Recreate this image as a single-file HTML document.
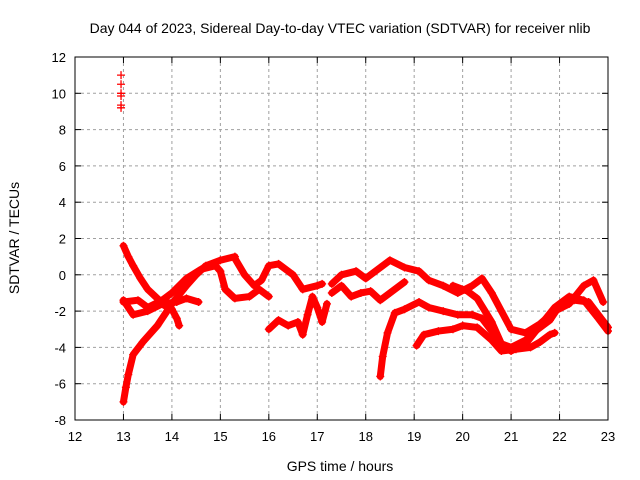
<!DOCTYPE html>
<html><head><meta charset="utf-8"><style>
body{margin:0;background:#fff}
svg{display:block;font-family:"Liberation Sans",sans-serif}
</style></head><body>
<svg id="c" width="640" height="480">
<text x="340" y="33" font-size="14" text-anchor="middle">Day 044 of 2023, Sidereal Day-to-day VTEC variation (SDTVAR) for receiver nlib</text>
<text x="340" y="471" font-size="14" text-anchor="middle">GPS time / hours</text>
<text transform="translate(19,238) rotate(-90)" font-size="14" text-anchor="middle">SDTVAR / TECUs</text>
<g id="grid"></g>
<g id="ticks"></g>
<g id="series"></g>
<rect x="75" y="57" width="533" height="363" fill="none" stroke="#000" stroke-width="1"/>
</svg>
<script>
const xTicks=[12,13,14,15,16,17,18,19,20,21,22,23];
const yTicks=[-8,-6,-4,-2,0,2,4,6,8,10,12];
const sTop=[[12.95,11.0],[12.95,10.5],[12.95,10.0],[12.95,9.85],[12.95,9.35],[12.95,9.2]];
const sA=[[13.0,1.6],[13.1,1.0],[13.2,0.5],[13.35,-0.2],[13.5,-0.8],[13.7,-1.3],[13.85,-1.7],[14.0,-1.9],[14.1,-2.4],[14.15,-2.8]];
const sB=[[13.0,-7.0],[13.05,-6.2],[13.1,-5.5],[13.2,-4.4],[13.4,-3.7],[13.7,-2.8],[14.0,-1.6],[14.3,-0.6],[14.5,0.0],[14.7,0.5],[15.0,0.8],[15.3,1.0]];
const sC=[[13.0,-1.5],[13.3,-1.4],[13.5,-1.8],[13.8,-1.4],[14.0,-1.0],[14.3,-0.2],[14.6,0.3],[14.9,0.5],[15.0,0.2],[15.1,-0.8],[15.3,-1.3],[15.6,-1.2],[15.8,-0.8],[16.0,-1.2]];
const sD=[[15.3,0.9],[15.5,0.0],[15.7,-0.6],[15.85,-0.3],[16.0,0.5],[16.2,0.6],[16.5,0.0],[16.7,-0.8],[17.0,-0.6],[17.1,-0.5]];
const sE=[[16.0,-3.0],[16.2,-2.5],[16.4,-2.8],[16.6,-2.6],[16.7,-3.3],[16.8,-2.2],[16.9,-1.2],[17.0,-1.8],[17.1,-2.6],[17.2,-1.6]];
const sF=[[13.0,-1.4],[13.2,-2.2],[13.5,-2.0],[13.8,-1.6],[14.1,-1.5],[14.3,-1.3],[14.55,-1.5]];
const sG=[[17.3,-0.5],[17.5,0.0],[17.8,0.2],[18.0,-0.2],[18.3,0.4],[18.5,0.8],[18.8,0.4],[19.1,0.2],[19.3,-0.3],[19.6,-0.6],[19.9,-1.0],[20.2,-0.6],[20.4,-0.2],[20.6,-1.0],[20.8,-2.0],[21.0,-3.0],[21.3,-3.2],[21.6,-2.7],[21.9,-2.0],[22.2,-1.6],[22.5,-0.6],[22.7,-0.3],[22.9,-1.5]];
const sH=[[17.3,-1.0],[17.5,-0.6],[17.7,-1.2],[17.9,-1.0],[18.1,-0.9],[18.3,-1.4],[18.5,-1.0],[18.8,-0.4]];
const sI=[[18.3,-5.6],[18.35,-4.5],[18.45,-3.2],[18.6,-2.1],[18.8,-1.9],[19.1,-1.5],[19.3,-1.8],[19.6,-2.0],[19.9,-2.2],[20.2,-2.2],[20.4,-2.4],[20.6,-3.1],[20.8,-3.8],[21.0,-4.0],[21.3,-3.6],[21.5,-3.1],[21.8,-2.5],[22.0,-1.7],[22.3,-1.4],[22.6,-1.5],[22.8,-2.2],[23.0,-2.9]];
const sJ=[[19.05,-3.9],[19.2,-3.3],[19.5,-3.1],[19.8,-3.0],[20.0,-2.8],[20.3,-2.9],[20.6,-3.6],[20.8,-4.2],[21.1,-4.1],[21.4,-4.0],[21.6,-3.7],[21.8,-3.3],[21.9,-3.2]];
const sK=[[19.8,-0.6],[20.1,-0.9],[20.3,-1.3],[20.6,-2.6],[20.8,-3.8],[21.0,-4.2],[21.3,-3.8],[21.6,-2.8],[21.9,-1.8],[22.2,-1.2],[22.5,-1.4],[22.8,-2.4],[23.0,-3.1]];
const allSeries=[sA,sB,sC,sD,sE,sF,sG,sH,sI,sJ,sK];
const NS='http://www.w3.org/2000/svg';
const L=75,R=608,T=57,B=420;
function xs(h){return L+(h-12)/11*(R-L);}
function ys(v){return B-(v+8)/20*(B-T);}
function mk(tag,at,parent){const e=document.createElementNS(NS,tag);for(const k in at)e.setAttribute(k,at[k]);parent.appendChild(e);return e;}
const grid=document.getElementById('grid'),ticks=document.getElementById('ticks'),ser=document.getElementById('series');
xTicks.forEach(t=>{const x=xs(t);
 if(t>12&&t<23){const g=mk('line',{x1:x,x2:x,y1:T,y2:B,stroke:'#a0a0a0','stroke-dasharray':'3,3'},grid);
 
 }
 mk('line',{x1:x,x2:x,y1:B,y2:B-6,stroke:'#000'},ticks);mk('line',{x1:x,x2:x,y1:T,y2:T+6,stroke:'#000'},ticks);
 const tx=mk('text',{x:x,y:B+21,'font-size':13,'text-anchor':'middle'},ticks);tx.textContent=t;
 
 
});
yTicks.forEach(t=>{const y=ys(t);
 if(t>-8&&t<12){const g=mk('line',{x1:L,x2:R,y1:y,y2:y,stroke:'#a0a0a0','stroke-dasharray':'3,3'},grid);
 
 }
 mk('line',{x1:L,x2:L+6,y1:y,y2:y,stroke:'#000'},ticks);mk('line',{x1:R,x2:R-6,y1:y,y2:y,stroke:'#000'},ticks);
 const tx=mk('text',{x:L-9,y:y+5,'font-size':13,'text-anchor':'end'},ticks);tx.textContent=t;
 
 
});
function plus(h,v){const x=xs(h),y=ys(v);
 const p=mk('path',{d:`M${x-4},${y}h8M${x},${y-4}v8`,stroke:'#f00','stroke-width':1.3},ser);
 
 }
allSeries.forEach(s=>{
 const pl=mk('polyline',{points:s.map(p=>xs(p[0])+','+ys(p[1])).join(' '),fill:'none',stroke:'#f00','stroke-width':7,'stroke-linejoin':'round','stroke-linecap':'round'},ser);
 
 
 s.forEach(p=>plus(p[0],p[1]));
});
sTop.forEach(p=>plus(p[0],p[1]));
</script>
</body></html>
